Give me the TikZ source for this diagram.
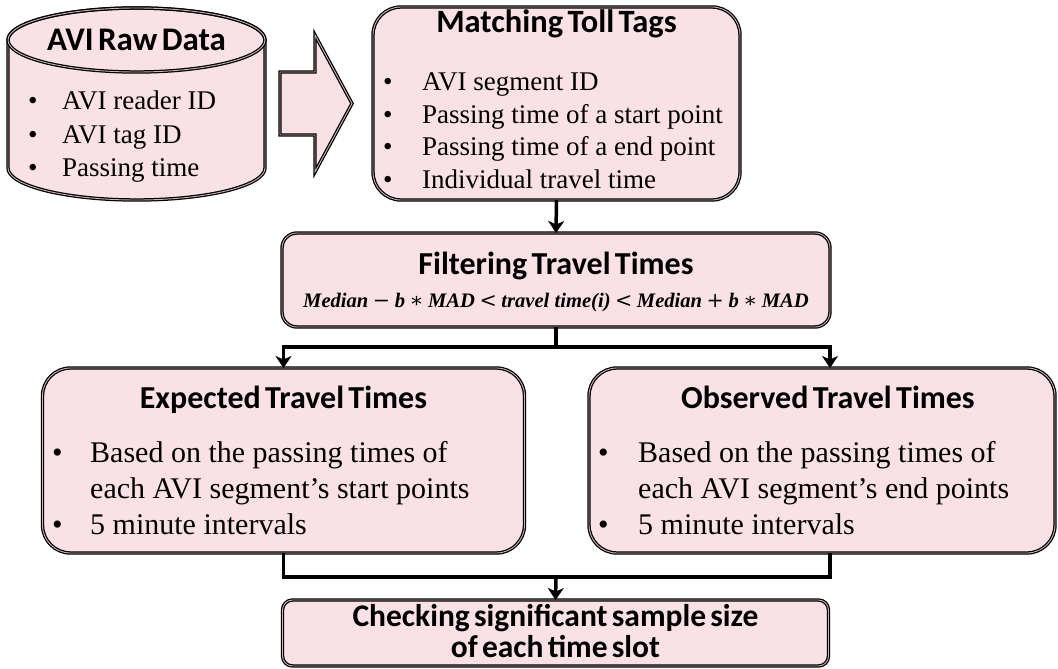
\documentclass[tikz,border=0pt]{standalone}
\usepackage{fontspec}
\setmainfont{Liberation Serif}
\newfontfamily\headfont[WordSpace=0.6]{Carlito}
\newfontfamily\opfont{DejaVu Serif}
\usetikzlibrary{arrows.meta,calc}
\definecolor{boxpink}{RGB}{250,225,230}
\definecolor{gapcol}{RGB}{200,180,184}
\newcommand\fop[1]{\hspace{0.22em}{\upshape\mdseries\opfont #1}\hspace{0.22em}}
\newcommand\filtformula{Median\fop{−}b\fop{∗}MAD\fop{<}travel time(i)\fop{<}Median\fop{+}b\fop{∗}MAD}
\tikzset{
  boxline/.style={draw=black, line width=1.25pt, double=gapcol, double distance=0.9pt},
  box/.style={boxline, fill=boxpink, inner sep=0pt, outer sep=0pt},
  head/.style={font=\headfont\bfseries\fontsize{#1}{#1}\selectfont, inner sep=0pt, anchor=base},
  head/.default=32,
  btxt/.style={font=\fontsize{#1}{#1}\selectfont, inner sep=0pt, anchor=base west},
  btxt/.default=27,
  ftxt/.style={font=\bfseries\itshape\fontsize{20.6}{20.6}\selectfont, inner sep=0pt, anchor=base},
  conn/.style={line width=3.5pt, -{Stealth[length=12pt,width=16pt,inset=3.5pt]}},
  plain/.style={line width=3.5pt}
}
\begin{document}
\begin{tikzpicture}[x=1pt,y=-1pt]
\fill[white] (0,0) rectangle (1058,669);
\useasboundingbox (0,0) rectangle (1058,669);

% cylinder: AVI Raw Data
\draw[boxline, fill=boxpink] (8,40) -- (8,168)
  arc[start angle=180, end angle=360, x radius=128.5pt, y radius=32pt]
  -- (265,40)
  arc[start angle=0, end angle=180, x radius=128.5pt, y radius=32pt] -- cycle;
\draw[boxline] (136.5,40) ellipse[x radius=128.5pt, y radius=32pt];
\coordinate (cyl) at (136.5,104);
\node[head=33] (cylT) at (136.5,51) {AVI Raw Data};
\foreach \txt [count=\i] in {AVI reader ID, AVI tag ID, Passing time} {
  \node[btxt=27] (cylb\i) at (28,{110+33*(\i-1)}) {•};
  \node[btxt=27] (cylt\i) at (62,{110+33*(\i-1)}) {\txt};
}

% block arrow
\draw[boxline, fill=boxpink] (280,72) -- (315,72) -- (315,35) -- (352,103.5)
  -- (315,172) -- (315,135) -- (280,135) -- cycle;

% Matching Toll Tags
\node[box, rounded corners=28pt, minimum width=367pt, minimum height=193pt] (match) at (556.5,103.5) {};
\node[head=32.5] (matchT) at (556.5,33) {Matching Toll Tags};
\foreach \txt [count=\i] in {AVI segment ID, Passing time of a start point, Passing time of a end point, Individual travel time} {
  \node[btxt=27] (matchb\i) at (383,{91+32.4*(\i-1)}) {•};
  \node[btxt=27] (matcht\i) at (422,{91+32.4*(\i-1)}) {\txt};
}

% Filtering Travel Times
\node[box, rounded corners=15pt, minimum width=548pt, minimum height=94pt] (filt) at (556,280) {};
\node[head=32] (filtT) at (556,274) {Filtering Travel Times};
\node[ftxt] (formula) at (556,307) {\filtformula};

% Expected Travel Times
\node[box, rounded corners=28pt, minimum width=482pt, minimum height=185pt] (exp) at (283.5,460.5) {};
\node[head=32] (expT) at (283.5,408) {Expected Travel Times};
\node[btxt=30] (expb1) at (52,462) {•};
\node[btxt=30] (expt1) at (90,462) {Based on the passing times of};
\node[btxt=30] (expt2) at (90,498) {each AVI segment’s start points};
\node[btxt=30] (expb3) at (52,534) {•};
\node[btxt=30] (expt3) at (90,534) {5 minute intervals};

% Observed Travel Times
\node[box, rounded corners=28pt, minimum width=466pt, minimum height=185pt] (obs) at (822,460.5) {};
\node[head=32] (obsT) at (828,408) {Observed Travel Times};
\node[btxt=30] (obsb1) at (598,462) {•};
\node[btxt=30] (obst1) at (638,462) {Based on the passing times of};
\node[btxt=30] (obst2) at (638,498) {each AVI segment’s end points};
\node[btxt=30] (obsb3) at (598,534) {•};
\node[btxt=30] (obst3) at (638,534) {5 minute intervals};

% Checking significant sample size
\node[box, rounded corners=10pt, minimum width=546pt, minimum height=66pt] (check) at (555.5,633) {};
\node[head=31.5] (checkT1) at (555.5,626.5) {Checking significant sample size};
\node[head=31.5] (checkT2) at (555.5,657) {of each time slot};

% connectors
\coordinate (split) at (556,347);
\coordinate (join) at (556,577);
\draw[conn] (match.south) -- (filt.north);
\draw[plain] (filt.south) -- (split);
\draw[conn] (split) -| (exp.north);
\draw[conn] (split) -| ([xshift=8pt]obs.north);
\draw[plain] (exp.south) |- (join) -| ([xshift=8pt]obs.south);
\draw[conn] (join) -- (check.north);
\end{tikzpicture}
\end{document}
